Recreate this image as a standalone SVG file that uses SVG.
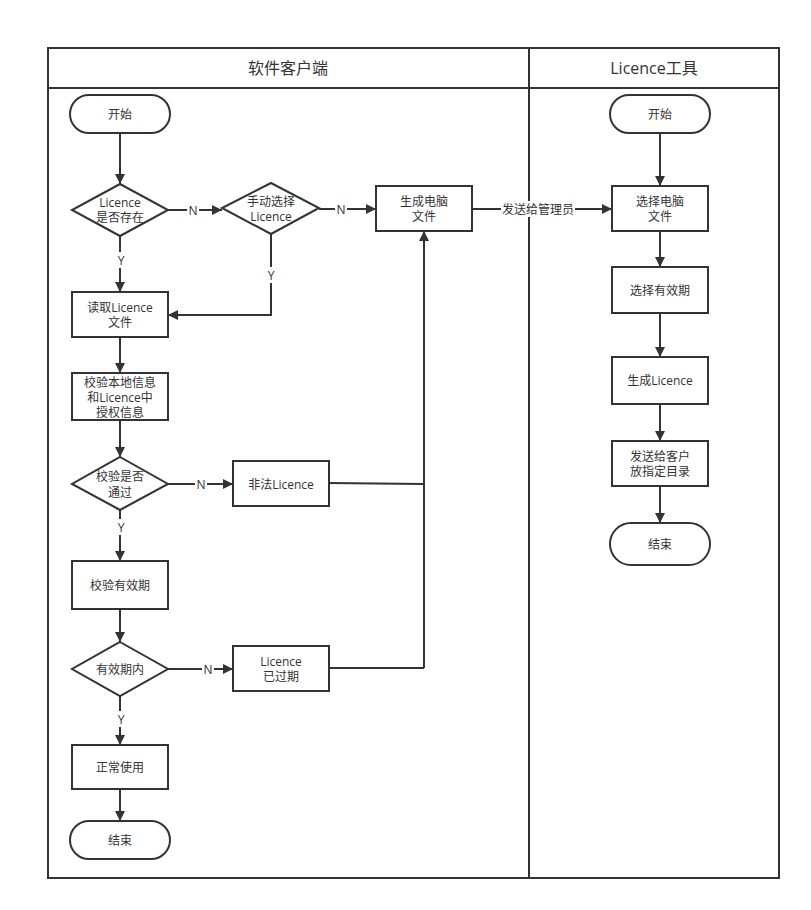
<svg xmlns="http://www.w3.org/2000/svg" width="811" height="910" viewBox="0 0 811 910">
<defs>
<marker id="arr" viewBox="0 0 10 10" refX="10" refY="5" markerWidth="10" markerHeight="10" markerUnits="userSpaceOnUse" orient="auto">
<path d="M0,0 L10,5 L0,10 z" fill="#333"/>
</marker>
</defs>
<style>
.s{fill:#fff;stroke:#333;stroke-width:2}
.t{font-family:"Open Sans","Noto Sans CJK SC",sans-serif;font-size:12px;fill:#333;text-anchor:middle;dominant-baseline:central}
.h{font-family:"Open Sans","Noto Sans CJK SC",sans-serif;font-size:16px;fill:#333;text-anchor:middle;dominant-baseline:central}
.c{fill:none;stroke:#333;stroke-width:2}
.a{marker-end:url(#arr)}
.lb{font-family:"Open Sans","Noto Sans CJK SC",sans-serif;font-size:12px;fill:#333;text-anchor:middle;dominant-baseline:central}
.bg{fill:#fff}
</style>
<rect width="811" height="910" fill="#fff"/>
<g id="pool">
<rect x="48" y="48" width="731" height="830" fill="none" stroke="#333" stroke-width="2"/>
<line x1="48" y1="88" x2="779" y2="88" stroke="#333" stroke-width="2"/>
<line x1="529" y1="48" x2="529" y2="878" stroke="#333" stroke-width="2"/>
<text class="h" x="288" y="68">软件客户端</text>
<text class="h" x="654" y="68">Licence工具</text>
</g>
<g id="connectors">
<line class="c a" x1="120" y1="133" x2="120" y2="184"/>
<line class="c a" x1="168" y1="210" x2="222" y2="210"/>
<line class="c a" x1="319" y1="209" x2="376" y2="209"/>
<line class="c a" x1="120" y1="236" x2="120" y2="292"/>
<polyline class="c a" points="271,234 271,315 168,315"/>
<line class="c a" x1="120" y1="337" x2="120" y2="373"/>
<line class="c a" x1="120" y1="420" x2="120" y2="457"/>
<line class="c a" x1="168" y1="484" x2="233" y2="484"/>
<polyline class="c" points="329,483 424,484 424,668"/>
<line class="c a" x1="424" y1="484" x2="424" y2="231"/>
<line class="c a" x1="120" y1="510" x2="120" y2="561"/>
<line class="c a" x1="120" y1="609" x2="120" y2="642"/>
<line class="c a" x1="168" y1="669" x2="233" y2="669"/>
<polyline class="c" points="329,668 424,668"/>
<line class="c a" x1="120" y1="696" x2="120" y2="745"/>
<line class="c a" x1="120" y1="789" x2="120" y2="821"/>
<line class="c a" x1="472" y1="209" x2="612" y2="209"/>
<line class="c a" x1="660" y1="133" x2="660" y2="186"/>
<line class="c a" x1="660" y1="231" x2="660" y2="267"/>
<line class="c a" x1="660" y1="313" x2="660" y2="357"/>
<line class="c a" x1="660" y1="404" x2="660" y2="441"/>
<line class="c a" x1="660" y1="486" x2="660" y2="523"/>
<rect class="bg" x="187" y="202" width="12" height="16"/>
<text class="lb" x="193" y="210">N</text>
<rect class="bg" x="335" y="201" width="12" height="16"/>
<text class="lb" x="341" y="209">N</text>
<rect class="bg" x="115" y="252" width="12" height="16"/>
<text class="lb" x="121" y="260">Y</text>
<rect class="bg" x="265" y="267" width="12" height="16"/>
<text class="lb" x="271" y="275">Y</text>
<rect class="bg" x="195" y="476" width="12" height="16"/>
<text class="lb" x="201" y="484">N</text>
<rect class="bg" x="115" y="519" width="12" height="16"/>
<text class="lb" x="121" y="527">Y</text>
<rect class="bg" x="202" y="661" width="12" height="16"/>
<text class="lb" x="208" y="669">N</text>
<rect class="bg" x="115" y="711" width="12" height="16"/>
<text class="lb" x="121" y="719">Y</text>
<rect class="bg" x="501" y="201" width="74" height="16"/>
<text class="lb" x="538" y="209">发送给管理员</text>
</g>
<g id="start-l"><rect class="s" x="70" y="95" width="100" height="38" rx="19"/><text class="t" x="120" y="114">开始</text></g>
<g id="exists"><polygon class="s" points="120,184 168,210 120,236 72,210"/><text class="t" x="120" y="202">Licence</text><text class="t" x="120" y="217">是否存在</text></g>
<g id="manual"><polygon class="s" points="271,183 319,208 271,234 222,208"/><text class="t" x="271" y="201">手动选择</text><text class="t" x="271" y="216">Licence</text></g>
<g id="genpc"><rect class="s" x="376" y="186" width="96" height="45"/><text class="t" x="424" y="201">生成电脑</text><text class="t" x="424" y="216">文件</text></g>
<g id="read"><rect class="s" x="72" y="292" width="96" height="45"/><text class="t" x="120" y="307">读取Licence</text><text class="t" x="120" y="322">文件</text></g>
<g id="check"><rect class="s" x="72" y="373" width="96" height="47"/><text class="t" x="120" y="382">校验本地信息</text><text class="t" x="120" y="397">和Licence中</text><text class="t" x="120" y="412">授权信息</text></g>
<g id="pass"><polygon class="s" points="120,457 168,484 120,510 72,484"/><text class="t" x="120" y="476">校验是否</text><text class="t" x="120" y="492">通过</text></g>
<g id="illegal"><rect class="s" x="233" y="461" width="96" height="45"/><text class="t" x="281" y="484">非法Licence</text></g>
<g id="checkexp"><rect class="s" x="72" y="561" width="96" height="48"/><text class="t" x="120" y="585">校验有效期</text></g>
<g id="valid"><polygon class="s" points="120,642 168,669 120,696 72,669"/><text class="t" x="120" y="669">有效期内</text></g>
<g id="expired"><rect class="s" x="233" y="646" width="96" height="45"/><text class="t" x="281" y="661">Licence</text><text class="t" x="281" y="676">已过期</text></g>
<g id="normal"><rect class="s" x="72" y="745" width="96" height="44"/><text class="t" x="120" y="767">正常使用</text></g>
<g id="end-l"><rect class="s" x="70" y="821" width="100" height="38" rx="19"/><text class="t" x="120" y="840">结束</text></g>
<g id="start-r"><rect class="s" x="610" y="95" width="100" height="38" rx="19"/><text class="t" x="660" y="114">开始</text></g>
<g id="selpc"><rect class="s" x="612" y="186" width="96" height="45"/><text class="t" x="660" y="201">选择电脑</text><text class="t" x="660" y="216">文件</text></g>
<g id="selexp"><rect class="s" x="612" y="267" width="96" height="46"/><text class="t" x="660" y="290">选择有效期</text></g>
<g id="genlic"><rect class="s" x="612" y="357" width="96" height="47"/><text class="t" x="660" y="380">生成Licence</text></g>
<g id="send"><rect class="s" x="612" y="441" width="96" height="45"/><text class="t" x="660" y="456">发送给客户</text><text class="t" x="660" y="471">放指定目录</text></g>
<g id="end-r"><rect class="s" x="610" y="523" width="100" height="42" rx="21"/><text class="t" x="660" y="544">结束</text></g>
</svg>
